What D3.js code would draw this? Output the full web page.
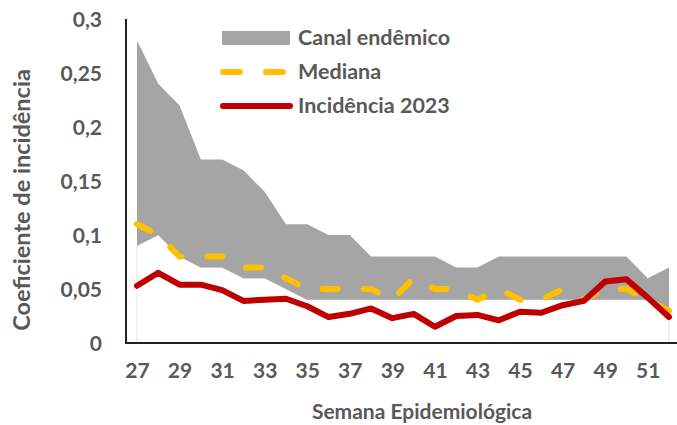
<!DOCTYPE html>
<html>
<head>
<meta charset="utf-8">
<script src="https://cdn.jsdelivr.net/npm/d3@7"></script>
<style>
  body { margin: 0; background: #fff; }
  text { font-family: Lato, "Open Sans", sans-serif; font-weight: bold; fill: #595959; }
</style>
</head>
<body>
<svg width="677" height="425"></svg>
<script>
// semanas epidemiologicas
var weeks = [27, 28, 29, 30, 31, 32, 33, 34, 35, 36, 37, 38, 39, 40, 41, 42, 43, 44, 45, 46, 47, 48, 49, 50, 51, 52];
var bandLow = [0.09, 0.10, 0.08, 0.07, 0.07, 0.06, 0.06, 0.05, 0.04, 0.04, 0.04, 0.04, 0.04, 0.04, 0.04, 0.04, 0.04, 0.04, 0.04, 0.04, 0.04, 0.04, 0.04, 0.04, 0.04, 0.03];
var bandHigh = [0.28, 0.24, 0.22, 0.17, 0.17, 0.16, 0.14, 0.11, 0.11, 0.10, 0.10, 0.08, 0.08, 0.08, 0.08, 0.07, 0.07, 0.08, 0.08, 0.08, 0.08, 0.08, 0.08, 0.08, 0.06, 0.07];
var mediana = [0.11, 0.10, 0.08, 0.08, 0.08, 0.07, 0.07, 0.06, 0.05, 0.05, 0.05, 0.05, 0.04, 0.06, 0.05, 0.05, 0.04, 0.05, 0.04, 0.04, 0.05, 0.04, 0.05, 0.05, 0.04, 0.03];
var incid2023 = [0.053, 0.065, 0.054, 0.054, 0.049, 0.039, 0.040, 0.041, 0.034, 0.024, 0.027, 0.032, 0.023, 0.027, 0.015, 0.025, 0.026, 0.021, 0.029, 0.028, 0.035, 0.039, 0.057, 0.059, 0.042, 0.024];
var xTicks = [27, 29, 31, 33, 35, 37, 39, 41, 43, 45, 47, 49, 51];
var yTicks = [0, 0.05, 0.1, 0.15, 0.2, 0.25, 0.3];
var legendNames = ["Canal endêmico", "Mediana", "Incidência 2023"];

var rows = weeks.map((w, i) => ({ w: w, lo: bandLow[i], hi: bandHigh[i], med: mediana[i], inc: incid2023[i] }));

var svg = d3.select("svg");
var x = d3.scaleLinear().domain([27, 52]).range([137, 669]);
var y = d3.scaleLinear().domain([0, 0.3]).range([343, 19]);
var fmt = d => String(d).replace(".", ",");

// base branca (area empilhada)
svg.append("path")
    .datum(rows)
    .attr("d", d3.area().x(d => x(d.w)).y0(y(0)).y1(d => y(d.lo)))
    .attr("fill", "#fff")
    .attr("stroke", "#e4e4e4")
    .attr("stroke-width", 1);

// canal endemico
svg.append("path")
    .datum(rows)
    .attr("d", d3.area().x(d => x(d.w)).y0(d => y(d.lo)).y1(d => y(d.hi)))
    .attr("fill", "#a5a5a5");

// mediana
svg.append("path")
    .datum(rows)
    .attr("d", d3.line().x(d => x(d.w)).y(d => y(d.med)))
    .attr("fill", "none")
    .attr("stroke", "#ffc000")
    .attr("stroke-width", 6)
    .attr("stroke-dasharray", "15,26")
    .attr("stroke-linecap", "round")
    .attr("stroke-linejoin", "round");

// incidencia 2023
svg.append("path")
    .datum(rows)
    .attr("d", d3.line().x(d => x(d.w)).y(d => y(d.inc)))
    .attr("fill", "none")
    .attr("stroke", "#c00000")
    .attr("stroke-width", 6)
    .attr("stroke-linecap", "round")
    .attr("stroke-linejoin", "round");

// eixos
var yAxis = d3.axisLeft(y).tickValues(yTicks).tickFormat(fmt).tickSize(0).tickPadding(24);
var yAxisGroup = svg.append("g").attr("transform", "translate(126,0)").call(yAxis);
yAxisGroup.select(".domain").attr("stroke", "#222").attr("stroke-width", 2).attr("d", "M0,19V343.5");
yAxisGroup.selectAll("text").style("font-size", "21px").attr("fill", "#595959").attr("dy", "0.35em");

var xAxis = d3.axisBottom(x).tickValues(xTicks).tickFormat(d => d).tickSize(0).tickPadding(20);
var xAxisGroup = svg.append("g").attr("transform", "translate(0,343)").call(xAxis);
xAxisGroup.select(".domain").attr("stroke", "#222").attr("stroke-width", 2).attr("d", "M125,0H677");
xAxisGroup.selectAll("text").style("font-size", "21px").attr("fill", "#595959");

svg.append("text")
    .attr("x", 422).attr("y", 419)
    .attr("text-anchor", "middle")
    .style("font-size", "21px")
    .text("Semana Epidemiológica");

svg.append("text")
    .attr("transform", "translate(30,200) rotate(-90)")
    .attr("text-anchor", "middle")
    .style("font-size", "23.5px")
    .text("Coeficiente de incidência");

// legenda
var leg = svg.append("g");
leg.append("rect").attr("x", 222).attr("y", 31).attr("width", 68).attr("height", 14).attr("fill", "#a5a5a5");
leg.append("line").attr("x1", 223).attr("x2", 286).attr("y1", 72).attr("y2", 72)
    .attr("stroke", "#ffc000").attr("stroke-width", 6).attr("stroke-linecap", "round").attr("stroke-dasharray", "17,26");
leg.append("line").attr("x1", 223).attr("x2", 290).attr("y1", 106).attr("y2", 106)
    .attr("stroke", "#c00000").attr("stroke-width", 6).attr("stroke-linecap", "round");
leg.selectAll(".lt")
    .data(legendNames)
    .enter().append("text")
    .attr("class", "lt")
    .attr("x", 298)
    .attr("y", (d, i) => [45, 79, 113][i])
    .style("font-size", "21.5px")
    .text(d => d);
</script>
</body>
</html>
